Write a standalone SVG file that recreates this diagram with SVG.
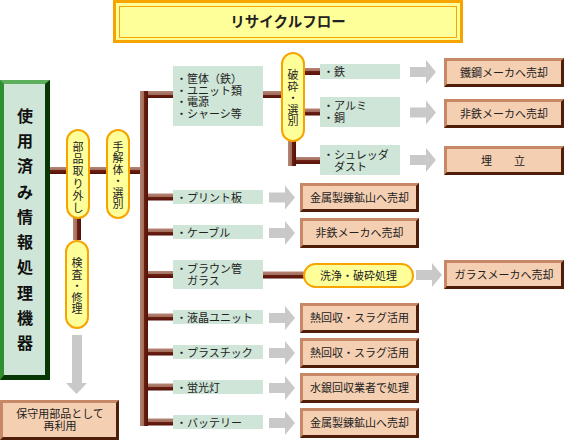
<svg xmlns="http://www.w3.org/2000/svg" width="565" height="440" viewBox="0 0 565 440">
<defs>
<linearGradient id="gh" x1="0" y1="0" x2="0" y2="1"><stop offset="0" stop-color="#B68676"/><stop offset="0.5" stop-color="#A06B5B"/><stop offset="0.5" stop-color="#6C2014"/><stop offset="1" stop-color="#561208"/></linearGradient>
<linearGradient id="gv" x1="0" y1="0" x2="1" y2="0"><stop offset="0" stop-color="#B68676"/><stop offset="0.5" stop-color="#A06B5B"/><stop offset="0.5" stop-color="#6C2014"/><stop offset="1" stop-color="#561208"/></linearGradient>
<path id="arr" d="M0,-5H16V-12L26,0L16,12V5H0Z" fill="#C9C9C9"/>
</defs>
<style>
text{font-family:"Liberation Sans","Noto Sans CJK JP",sans-serif;fill:#222;font-size:11px;dominant-baseline:central;}
.c{text-anchor:middle;}
.lb{fill:#CEE5D7;}
.pill{fill:#FFFF99;stroke:#F7A300;stroke-width:2;}
.rd{fill:#4E1E0A;}
.rl{fill:#C68866;}
.rf{fill:#F5CFB1;}
.h{fill:url(#gh);}
.v{fill:url(#gv);}
.big{font-size:16px;font-weight:bold;fill:#111;}
.ttl{font-size:14.5px;font-weight:bold;fill:#222;}
</style>
<rect width="565" height="440" fill="#FFFFFF"/>

<g id="title">
<rect x="114.5" y="1.5" width="347" height="40" fill="#FFFF99" stroke="#F7A300" stroke-width="3"/>
<rect x="119.5" y="6.5" width="337" height="31" fill="none" stroke="#F7A300" stroke-width="1"/>
<text class="ttl c" x="288" y="22">リサイクルフロー</text>
</g>

<g id="connectors">
<rect class="h" x="50" y="167" width="90" height="7"/>
<rect class="v" x="73" y="218" width="8" height="22"/>
<rect class="v" x="140" y="91" width="8" height="335"/>
<rect class="h" x="148" y="91" width="25" height="7"/>
<rect class="h" x="148" y="193.5" width="25" height="7"/>
<rect class="h" x="148" y="228.5" width="25" height="7"/>
<rect class="h" x="148" y="271" width="25" height="7"/>
<rect class="h" x="148" y="313.5" width="25" height="7"/>
<rect class="h" x="148" y="348.5" width="25" height="7"/>
<rect class="h" x="148" y="383.5" width="25" height="7"/>
<rect class="h" x="148" y="418.5" width="25" height="7"/>
<rect class="h" x="263" y="91" width="18" height="7"/>
<rect class="h" x="304" y="68" width="16" height="7"/>
<rect class="h" x="304" y="108.5" width="16" height="7"/>
<rect class="v" x="288" y="141" width="8" height="25"/>
<rect class="h" x="296" y="157" width="24" height="7"/>
<rect class="h" x="263" y="271.5" width="41" height="7"/>
<path d="M72,335H82V383H87L76.5,394L66,383H72Z" fill="#C9C9C9"/>
<use href="#arr" x="269" y="197.5"/>
<use href="#arr" x="269" y="233"/>
<use href="#arr" x="269" y="318"/>
<use href="#arr" x="269" y="353"/>
<use href="#arr" x="269" y="388"/>
<use href="#arr" x="269" y="423"/>
<use href="#arr" x="410" y="72"/>
<use href="#arr" x="410" y="112.5"/>
<use href="#arr" x="410" y="160"/>
<use href="#arr" x="416" y="275"/>
</g>

<g id="n-device">
<rect x="0" y="80" width="50" height="300" fill="#2F8F2F"/>
<polygon points="0,80 50,80 45,84 4,84" fill="#5DAE5D"/>
<polygon points="50,80 50,380 0,380 4,375 45,375 45,84" fill="#063806"/>
<rect x="4" y="84" width="41" height="291" fill="#CEE5D7"/>
<text class="big c"><tspan x="25" y="116">使</tspan><tspan x="25" y="141.2">用</tspan><tspan x="25" y="166.4">済</tspan><tspan x="25" y="191.7">み</tspan><tspan x="25" y="216.9">情</tspan><tspan x="25" y="242.1">報</tspan><tspan x="25" y="267.3">処</tspan><tspan x="25" y="292.6">理</tspan><tspan x="25" y="317.8">機</tspan><tspan x="25" y="343">器</tspan></text>
</g>

<g id="n-remove">
<rect class="pill" x="67" y="130" width="22" height="88" rx="11"/>
<text class="c"><tspan x="78" y="147">部</tspan><tspan x="78" y="159.2">品</tspan><tspan x="78" y="171.4">取</tspan><tspan x="78" y="183.6">り</tspan><tspan x="78" y="195.8">外</tspan><tspan x="78" y="208">し</tspan></text>
</g>

<g id="n-dismantle">
<rect class="pill" x="107" y="130" width="22" height="88" rx="11"/>
<text class="c"><tspan x="118" y="147">手</tspan><tspan x="118" y="158.4">解</tspan><tspan x="118" y="169.8">体</tspan><tspan x="118" y="181.2">・</tspan><tspan x="118" y="192.6">選</tspan><tspan x="118" y="204">別</tspan></text>
</g>

<g id="n-inspect">
<rect class="pill" x="66" y="241" width="22" height="87" rx="11"/>
<text class="c"><tspan x="77" y="263">検</tspan><tspan x="77" y="274.5">査</tspan><tspan x="77" y="286">・</tspan><tspan x="77" y="297.5">修</tspan><tspan x="77" y="309">理</tspan></text>
</g>

<g id="n-reuse">
<rect class="rd" x="0" y="400" width="119" height="40"/>
<polygon class="rl" points="0,400 119,400 116,403 3,403 3,437 0,440"/>
<rect class="rf" x="3" y="403" width="113" height="34"/>
<text class="c" x="60" y="414">保守用部品として</text>
<text class="c" x="60" y="426">再利用</text>
</g>

<g id="n-case">
<rect class="lb" x="173" y="66" width="90" height="60"/>
<text x="176" y="79">・筐体（鉄）</text>
<text x="176" y="90.7">・ユニット類</text>
<text x="176" y="102.3">・電源</text>
<text x="176" y="114">・シャーシ等</text>
</g>

<g id="n-crush">
<rect class="pill" x="282" y="53" width="22" height="88" rx="11"/>
<text class="c"><tspan x="293" y="75">破</tspan><tspan x="293" y="86.5">砕</tspan><tspan x="293" y="98">・</tspan><tspan x="293" y="109.5">選</tspan><tspan x="293" y="121">別</tspan></text>
</g>

<g id="n-iron">
<rect class="lb" x="320" y="64" width="80" height="15"/>
<text x="323" y="72">・鉄</text>
</g>
<g id="n-alu">
<rect class="lb" x="320" y="97" width="80" height="30"/>
<text x="323" y="106">・アルミ</text>
<text x="323" y="118">・銅</text>
</g>
<g id="n-dust">
<rect class="lb" x="320" y="145" width="80" height="30"/>
<text x="323" y="155">・シュレッダ</text>
<text x="323" y="167">　ダスト</text>
</g>

<g id="n-pcb"><rect class="lb" x="173" y="190" width="90" height="14"/><text x="176" y="197.5">・プリント板</text></g>
<g id="n-cable"><rect class="lb" x="173" y="225" width="90" height="14"/><text x="176" y="232.5">・ケーブル</text></g>
<g id="n-crt"><rect class="lb" x="173" y="260" width="90" height="29"/><text x="176" y="269">・ブラウン管</text><text x="176" y="281">　ガラス</text></g>
<g id="n-lcd"><rect class="lb" x="173" y="310" width="90" height="14"/><text x="176" y="317.5">・液晶ユニット</text></g>
<g id="n-plastic"><rect class="lb" x="173" y="345" width="90" height="14"/><text x="176" y="352.5">・プラスチック</text></g>
<g id="n-lamp"><rect class="lb" x="173" y="380" width="90" height="14"/><text x="176" y="387.5">・蛍光灯</text></g>
<g id="n-battery"><rect class="lb" x="173" y="415" width="90" height="14"/><text x="176" y="422.5">・バッテリー</text></g>

<g id="n-wash">
<rect class="pill" x="304" y="264" width="109" height="23" rx="11.5"/>
<text class="c" x="358.5" y="275.5">洗浄・破砕処理</text>
</g>

<g id="r-steel">
<rect class="rd" x="444" y="58" width="120" height="29"/>
<polygon class="rl" points="444,58 564,58 561,61 447,61 447,84 444,87"/>
<rect class="rf" x="447" y="61" width="114" height="23"/>
<text class="c" x="504" y="72.5">鐵鋼メーカへ売却</text>
</g>
<g id="r-nonferrous1">
<rect class="rd" x="444" y="99" width="120" height="29"/>
<polygon class="rl" points="444,99 564,99 561,102 447,102 447,125 444,128"/>
<rect class="rf" x="447" y="102" width="114" height="23"/>
<text class="c" x="504" y="113.5">非鉄メーカへ売却</text>
</g>
<g id="r-landfill">
<rect class="rd" x="444" y="146" width="120" height="29"/>
<polygon class="rl" points="444,146 564,146 561,149 447,149 447,172 444,175"/>
<rect class="rf" x="447" y="149" width="114" height="23"/>
<text class="c" x="503" y="160.5">埋　　立</text>
</g>
<g id="r-smelt1">
<rect class="rd" x="300" y="183" width="119" height="29"/>
<polygon class="rl" points="300,183 419,183 416,186 303,186 303,209 300,212"/>
<rect class="rf" x="303" y="186" width="113" height="23"/>
<text class="c" x="359.5" y="197.5">金属製錬鉱山へ売却</text>
</g>
<g id="r-nonferrous2">
<rect class="rd" x="300" y="218" width="119" height="30"/>
<polygon class="rl" points="300,218 419,218 416,221 303,221 303,245 300,248"/>
<rect class="rf" x="303" y="221" width="113" height="24"/>
<text class="c" x="359.5" y="233">非鉄メーカへ売却</text>
</g>
<g id="r-glass">
<rect class="rd" x="444" y="260" width="120" height="29"/>
<polygon class="rl" points="444,260 564,260 561,263 447,263 447,286 444,289"/>
<rect class="rf" x="447" y="263" width="114" height="23"/>
<text class="c" x="504" y="274.5">ガラスメーカへ売却</text>
</g>
<g id="r-heat1">
<rect class="rd" x="300" y="303" width="119" height="30"/>
<polygon class="rl" points="300,303 419,303 416,306 303,306 303,330 300,333"/>
<rect class="rf" x="303" y="306" width="113" height="24"/>
<text class="c" x="359.5" y="318">熱回収・スラグ活用</text>
</g>
<g id="r-heat2">
<rect class="rd" x="300" y="338" width="119" height="30"/>
<polygon class="rl" points="300,338 419,338 416,341 303,341 303,365 300,368"/>
<rect class="rf" x="303" y="341" width="113" height="24"/>
<text class="c" x="359.5" y="353">熱回収・スラグ活用</text>
</g>
<g id="r-mercury">
<rect class="rd" x="300" y="373" width="119" height="30"/>
<polygon class="rl" points="300,373 419,373 416,376 303,376 303,400 300,403"/>
<rect class="rf" x="303" y="376" width="113" height="24"/>
<text class="c" x="359.5" y="388">水銀回収業者で処理</text>
</g>
<g id="r-smelt2">
<rect class="rd" x="300" y="408" width="119" height="30"/>
<polygon class="rl" points="300,408 419,408 416,411 303,411 303,435 300,438"/>
<rect class="rf" x="303" y="411" width="113" height="24"/>
<text class="c" x="359.5" y="423">金属製錬鉱山へ売却</text>
</g>
</svg>
